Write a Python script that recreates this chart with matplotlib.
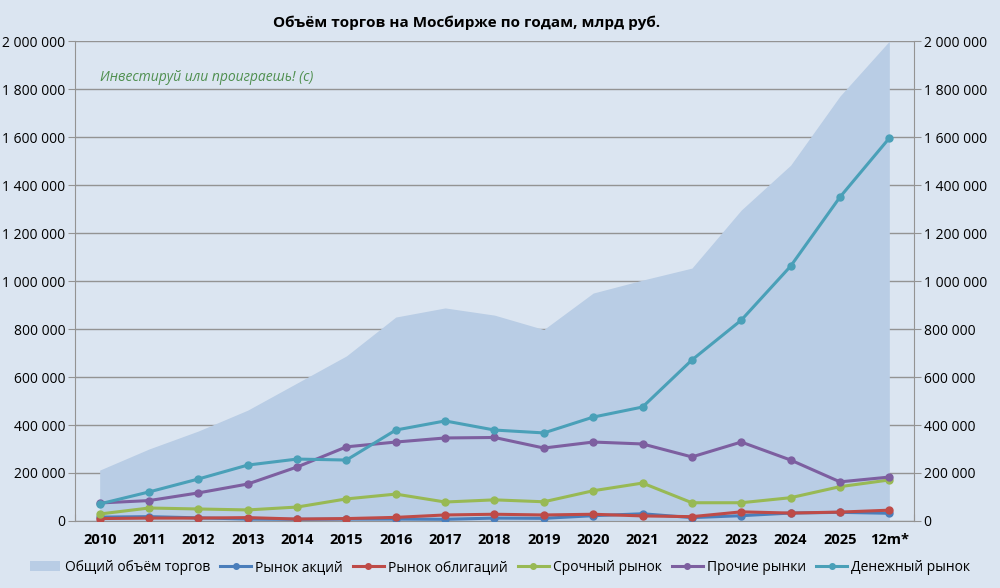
import numpy as np
import matplotlib

matplotlib.use("Agg")
import matplotlib.pyplot as plt
from matplotlib.patches import Patch
from matplotlib.lines import Line2D
from matplotlib.ticker import FuncFormatter

plt.rcParams["font.family"] = ["Open Sans", "DejaVu Sans"]

years = ["2010", "2011", "2012", "2013", "2014", "2015", "2016", "2017", "2018",
         "2019", "2020", "2021", "2022", "2023", "2024", "2025", "12m*"]

# млрд руб.
total = [212000, 300000, 375000, 462000, 575000, 688000, 850000, 888000, 858000,
         798000, 950000, 1004000, 1054000, 1296000, 1483000, 1771000, 2000000]
stocks = [16000, 18000, 13000, 8000, 7000, 8000, 8000, 7000, 12000,
          11000, 22000, 30000, 14000, 22000, 33000, 36000, 32000]
bonds = [10000, 12000, 12000, 14000, 8000, 10000, 15000, 25000, 28000,
         25000, 28000, 21000, 18000, 38000, 33000, 37000, 45000]
derivs = [29000, 54000, 50000, 46000, 58000, 92000, 112000, 79000, 88000,
          80000, 126000, 158000, 76000, 76000, 97000, 143000, 171000]
other = [75000, 85000, 117000, 154000, 225000, 309000, 329000, 346000, 348000,
         304000, 329000, 321000, 267000, 329000, 254000, 163000, 183000]
money = [71000, 121000, 175000, 233000, 258000, 254000, 379000, 417000, 379000,
         367000, 433000, 475000, 671000, 837000, 1062000, 1350000, 1596000]

series = [
    ("Рынок акций", stocks, "#4a7ebb"),
    ("Рынок облигаций", bonds, "#be4b48"),
    ("Срочный рынок", derivs, "#98b954"),
    ("Прочие рынки", other, "#7d5fa0"),
    ("Денежный рынок", money, "#4aa0b8"),
]

bg = "#dbe5f1"
area_col = "#b9cde5"
grid_col = "#939393"

fig = plt.figure(figsize=(10, 5.88), dpi=100, facecolor=bg)
ax = fig.add_axes([0.075, 0.114, 0.839, 0.816])
ax.set_facecolor(bg)

x = np.arange(len(years))
ax.fill_between(x, 0, total, color=area_col, lw=0, zorder=1)
for name, vals, col in series:
    ax.plot(x, vals, "-o", color=col, lw=2.2, ms=5, zorder=3)

ax.set_xlim(-0.5, len(years) - 0.5)
ax.set_ylim(0, 2000000)
yt = np.arange(0, 2000001, 200000)
ax.set_yticks(yt)
ax.yaxis.grid(True, color=grid_col, lw=1)
ax.set_axisbelow(True)

fmt = FuncFormatter(lambda v, p: f"{int(v):,}".replace(",", " "))
ax.yaxis.set_major_formatter(fmt)
ax.tick_params(axis="y", length=5, color=grid_col, labelsize=10, pad=2)

# category ticks between bins, labels at the centres
ax.set_xticks(np.arange(-0.5, len(years), 1.0))
ax.set_xticklabels([])
ax.set_xticks(x, minor=True)
ax.set_xticklabels(years, minor=True, fontweight="bold", fontsize=10.5)
ax.tick_params(axis="x", which="major", length=5, color=grid_col, direction="in")
ax.tick_params(axis="x", which="minor", length=0, pad=9)

for s in ["top", "right"]:
    ax.spines[s].set_visible(False)
for s in ["left", "bottom"]:
    ax.spines[s].set_color(grid_col)

ax2 = ax.twinx()
ax2.set_ylim(ax.get_ylim())
ax2.set_yticks(yt)
ax2.yaxis.set_major_formatter(fmt)
ax2.tick_params(axis="y", length=5, color=grid_col, labelsize=10, pad=2)
for s in ["top", "left", "bottom"]:
    ax2.spines[s].set_visible(False)
ax2.spines["right"].set_color(grid_col)

fig.text(0.467, 0.962, "Объём торгов на Мосбирже по годам, млрд руб.",
         ha="center", va="center", fontsize=11, fontweight="bold")
ax.text(0.0, 1850000, "Инвестируй или проиграешь! (с)", fontsize=10,
        style="italic", color="#4f8f4f", va="center", ha="left")

handles = [Patch(facecolor=area_col, edgecolor="none", label="Общий объём торгов")]
for name, vals, col in series:
    handles.append(Line2D([], [], color=col, lw=2.2, marker="o", ms=4, label=name))
fig.legend(handles=handles, loc="center", bbox_to_anchor=(0.5, 0.035), ncol=6,
           frameon=False, fontsize=10, handlelength=2.2, columnspacing=0.75,
           handletextpad=0.3)

fig.savefig("out.png", dpi=100, facecolor=bg)
